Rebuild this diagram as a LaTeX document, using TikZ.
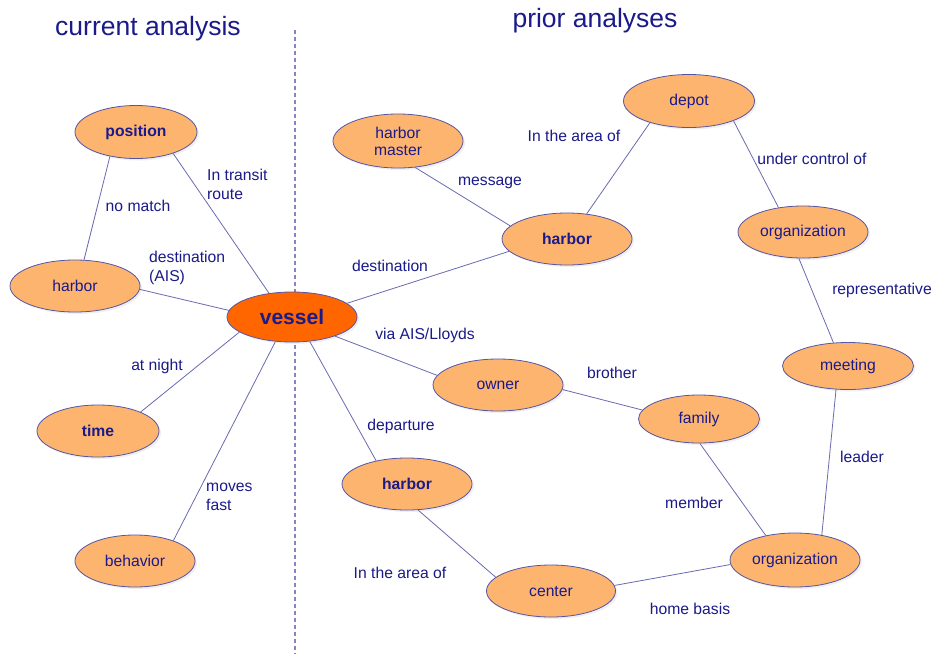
\documentclass[tikz,border=0pt]{standalone}
\usepackage{fontspec}
\setmainfont{Liberation Sans}
\usetikzlibrary{shapes.geometric,shadows}
\definecolor{ink}{HTML}{1A1A8A}
\definecolor{linkc}{HTML}{6A6AB0}
\definecolor{bubble}{HTML}{FDB46E}
\definecolor{rim}{HTML}{5555A5}
\definecolor{hot}{HTML}{FF6600}
\definecolor{divider}{HTML}{8585C5}
\tikzset{
  concept/.style={ellipse, draw=rim, line width=0.8pt, fill=bubble,
    minimum width=130pt, minimum height=52pt, inner sep=0pt,
    text=ink, font=\fontsize{15.7}{18}\selectfont, align=center,
    drop shadow={opacity=0.12, shadow xshift=2pt, shadow yshift=-2pt}},
  keyconcept/.style={concept, font=\fontsize{15.7}{18}\selectfont\bfseries},
  rel/.style={text=ink, font=\fontsize{15.7}{19}\selectfont, align=left, inner sep=0pt},
  link/.style={draw=linkc, line width=0.8pt},
  heading/.style={text=ink, font=\fontsize{26.5}{30}\selectfont, inner sep=0pt}
}
\begin{document}
\begin{tikzpicture}[x=1pt, y=-1pt]
\useasboundingbox[fill=white] (0,0) rectangle (935,654);

% headings and divider
\node[heading] (hcur) at (148,29) {current analysis};
\node[heading] (hpri) at (595,21) {prior analyses};
\coordinate (divtop) at (295,30);
\coordinate (divbot) at (295,654);
\draw[divider, line width=1.4pt, dash pattern=on 4pt off 3pt] (divtop) -- (divbot);

% current analysis
\node[concept, ellipse, fill=hot, minimum width=130pt, minimum height=50pt,
      font=\fontsize{21}{24}\selectfont\bfseries] (vessel) at (292,317) {vessel};
\node[keyconcept, minimum width=122pt, minimum height=53pt] (position) at (136,132) {position};
\node[concept] (harborL) at (75,286) {harbor};
\node[keyconcept, minimum width=122pt] (time) at (98,431) {time};
\node[concept, minimum width=120pt] (behavior) at (135,561) {behavior};

% prior analyses
\node[concept, minimum height=54pt] (hmaster) at (398,141) {harbor\\[-1pt]master};
\node[concept, minimum width=131pt, minimum height=53pt] (depot) at (689,101) {depot};
\node[keyconcept] (harborM) at (567,239) {harbor};
\node[concept] (orgT) at (803,232) {organization};
\node[concept, minimum width=131pt, minimum height=47pt] (meeting) at (848,366) {meeting};
\node[concept] (owner) at (498,385) {owner};
\node[concept, minimum width=121pt, minimum height=48pt] (family) at (699,419) {family};
\node[keyconcept] (harborB) at (407,484) {harbor};
\node[concept, minimum width=129pt] (center) at (551,591) {center};
\node[concept, minimum width=130pt, minimum height=54pt] (orgB) at (795,560) {organization};

% connectors, attached at fixed points of each outline
\draw[link] (position.223) -- (harborL.71);
\draw[link] (position.330) -- (vessel.134);
\draw[link] (harborL.357) -- (vessel.174);
\draw[link] (time.24) -- (vessel.196);
\draw[link] (behavior.28) -- (vessel.236);
\draw[link] (vessel.14) -- (harborM.192);
\draw[link] (vessel.336) -- (owner.171);
\draw[link] (vessel.306) -- (harborB.143);
\draw[link] (hmaster.303) -- (harborM.167);
\draw[link] (harborM.52) -- (depot.209);
\draw[link] (depot.336) -- (orgT.135);
\draw[link] (orgT.261) -- (meeting.122);
\draw[link] (meeting.243) -- (orgB.43);
\draw[link] (owner.356) -- (family.171);
\draw[link] (family.272) -- (orgB.140);
\draw[link] (harborB.293) -- (center.166);
\draw[link] (center.5) -- (orgB.184);

% relation labels
\node[rel] (lnomatch) at (138,206) {no match};
\node[rel, anchor=west] (ltransit) at (207,184) {In transit\\route};
\node[rel, anchor=west] (ldestais) at (149,268) {destination\\(AIS)};
\node[rel] (lnight) at (157,366) {at night};
\node[rel, anchor=west] (lfast) at (206,497) {moves\\fast};
\node[rel] (ldest) at (390,266) {destination};
\node[rel] (lmsg) at (490,183) {message};
\node[rel] (lareaT) at (574,136) {In the area of};
\node[rel] (lctrl) at (812,159) {under control of};
\node[rel] (lrep) at (882,290) {representative};
\node[rel] (lais) at (425,335) {via AIS/Lloyds};
\node[rel] (lbro) at (612,373) {brother};
\node[rel] (ldep) at (401,426) {departure};
\node[rel] (llead) at (862,457) {leader};
\node[rel] (lmem) at (694,503) {member};
\node[rel] (lareaB) at (400,573) {In the area of};
\node[rel] (lhome) at (690,609) {home basis};
\end{tikzpicture}
\end{document}
